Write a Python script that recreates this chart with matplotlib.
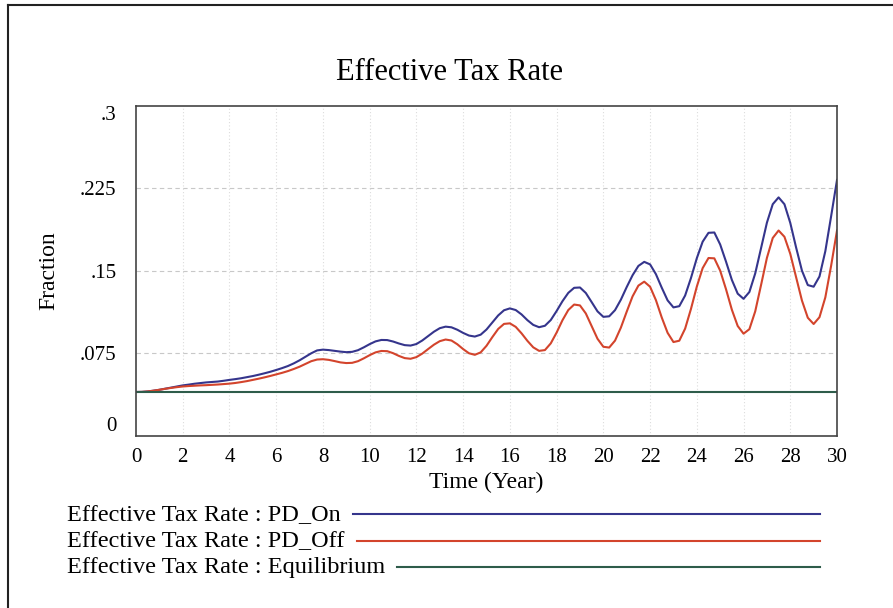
import numpy as np
import matplotlib.pyplot as plt
from matplotlib.lines import Line2D

plt.rcParams['font.family'] = ['Liberation Serif', 'DejaVu Serif']

time = np.arange(0, 30.25, 0.25)

pd_on = [0.0400, 0.0401, 0.0405, 0.0412, 0.0420, 0.0430, 0.0440, 0.0450,  # 0 - 1.75
         0.0460, 0.0467, 0.0475, 0.0481, 0.0487, 0.0491, 0.0495, 0.0502,  # 2 - 3.75
         0.0510, 0.0517, 0.0525, 0.0535, 0.0545, 0.0557, 0.0570, 0.0584,  # 4 - 5.75
         0.0600, 0.0617, 0.0636, 0.0660, 0.0688, 0.0720, 0.0752, 0.0778,  # 6 - 7.75
         0.0785, 0.0781, 0.0774, 0.0767, 0.0762, 0.0765, 0.0780, 0.0806,  # 8 - 9.75
         0.0835, 0.0860, 0.0873, 0.0872, 0.0859, 0.0841, 0.0826, 0.0822,  # 10 - 11.75
         0.0836, 0.0868, 0.0908, 0.0948, 0.0980, 0.0994, 0.0988, 0.0966,  # 12 - 13.75
         0.0937, 0.0913, 0.0904, 0.0921, 0.0968, 0.1032, 0.1096, 0.1143,  # 14 - 15.75
         0.1160, 0.1145, 0.1105, 0.1053, 0.1010, 0.0989, 0.1002, 0.1054,  # 16 - 17.75
         0.1136, 0.1225, 0.1301, 0.1347, 0.1350, 0.1300, 0.1217, 0.1133,  # 18 - 19.75
         0.1083, 0.1088, 0.1144, 0.1239, 0.1354, 0.1461, 0.1546, 0.1583,  # 20 - 21.75
         0.1560, 0.1471, 0.1348, 0.1233, 0.1169, 0.1180, 0.1277, 0.1436,  # 22 - 23.75
         0.1616, 0.1766, 0.1847, 0.1850, 0.1741, 0.1585, 0.1419, 0.1294,  # 24 - 25.75
         0.1247, 0.1309, 0.1478, 0.1708, 0.1939, 0.2107, 0.2169, 0.2107,  # 26 - 27.75
         0.1937, 0.1713, 0.1503, 0.1372, 0.1357, 0.1450, 0.1680, 0.2000,  # 28 - 29.75
         0.2328]

pd_off = [0.0400, 0.0401, 0.0405, 0.0412, 0.0420, 0.0429, 0.0437, 0.0444,
          0.0450, 0.0454, 0.0457, 0.0460, 0.0462, 0.0465, 0.0468, 0.0472,
          0.0476, 0.0482, 0.0490, 0.0499, 0.0510, 0.0521, 0.0533, 0.0546,
          0.0560, 0.0574, 0.0590, 0.0609, 0.0630, 0.0655, 0.0680, 0.0695,
          0.0698, 0.0692, 0.0681, 0.0669, 0.0663, 0.0665, 0.0680, 0.0706,
          0.0735, 0.0760, 0.0773, 0.0771, 0.0753, 0.0728, 0.0708, 0.0702,
          0.0717, 0.0749, 0.0790, 0.0830, 0.0862, 0.0877, 0.0868, 0.0834,
          0.0790, 0.0752, 0.0738, 0.0760, 0.0820, 0.0899, 0.0973, 0.1019,
          0.1024, 0.0992, 0.0933, 0.0865, 0.0806, 0.0774, 0.0781, 0.0842,
          0.0940, 0.1052, 0.1145, 0.1195, 0.1187, 0.1114, 0.0999, 0.0884,
          0.0811, 0.0804, 0.0867, 0.0985, 0.1130, 0.1269, 0.1367, 0.1403,
          0.1357, 0.1235, 0.1077, 0.0938, 0.0854, 0.0866, 0.0976, 0.1155,
          0.1358, 0.1526, 0.1618, 0.1615, 0.1503, 0.1334, 0.1148, 0.1000,
          0.0930, 0.0971, 0.1133, 0.1373, 0.1619, 0.1800, 0.1868, 0.1811,
          0.1656, 0.1443, 0.1231, 0.1075, 0.1018, 0.1080, 0.1260, 0.1550,
          0.1868]

equilibrium = [0.040] * len(time)

series_names = ['Effective Tax Rate : PD_On', 'Effective Tax Rate : PD_Off',
                'Effective Tax Rate : Equilibrium']
colors = ['#35358c', '#d3442c', '#2e5c4a']

y_ticks = [0, 0.075, 0.15, 0.225, 0.3]
y_labels = ['0', '.075', '.15', '.225', '.3']
x_ticks = list(range(0, 31, 2))

fig = plt.figure(figsize=(8.93, 6.08), dpi=100)
ax = fig.add_axes([0.1523, 0.2829, 0.785, 0.5428])

ax.plot(time, pd_on, color=colors[0], lw=1.5)
ax.plot(time, pd_off, color=colors[1], lw=1.5)
ax.plot(time, equilibrium, color=colors[2], lw=1.5)

ax.set_xlim(0, 30)
ax.set_ylim(0, 0.3)
ax.set_xticks(x_ticks)
ax.set_xticklabels([str(t) for t in x_ticks], fontsize=15)
ax.set_yticks(y_ticks)
ax.set_yticklabels(y_labels, fontsize=15)
ax.tick_params(axis='x', length=0, pad=9)
ax.tick_params(axis='y', length=0, pad=14)
labs = ax.get_yticklabels()
labs[0].set_va('bottom')
labs[-1].set_va('top')

# grid: dashed horizontals, faint verticals
for y in y_ticks[1:-1]:
    ax.axhline(y, color='#c8c8c8', lw=0.8, ls=(0, (4, 3)), zorder=0)
for x in x_ticks[1:-1]:
    ax.axvline(x, color='#dcdcdc', lw=0.8, ls=(0, (1, 2)), zorder=0)

for s in ax.spines.values():
    s.set_color('#444444')
    s.set_linewidth(1.2)

ax.set_xlabel('Time (Year)', fontsize=17, labelpad=3)
ax.set_ylabel('Fraction', fontsize=17, labelpad=15)
fig.text(450 / 893, 1 - 72 / 608, 'Effective Tax Rate', fontsize=22,
         ha='center', va='center')

# legend rows: text followed by a line sample
rows_y = [516, 542, 568]
line_y = [514, 541, 567]
for name, c, yp, ly in zip(series_names, colors, rows_y, line_y):
    t = fig.text(67 / 893, 1 - yp / 608, name, fontsize=17.5, ha='left', va='center')
    fig.canvas.draw()
    bb = t.get_window_extent()
    x0 = (bb.x1 + 12) / 893
    fig.add_artist(Line2D([x0, 820 / 893], [1 - ly / 608, 1 - ly / 608],
                          color=c, lw=1.5, transform=fig.transFigure))

# outer frame (left and top edges)
fig.add_artist(Line2D([8 / 893, 8 / 893], [0, 1 - 5 / 608], color='#222222', lw=1.5,
                      transform=fig.transFigure))
fig.add_artist(Line2D([8 / 893, 1], [1 - 5 / 608, 1 - 5 / 608], color='#222222', lw=1.5,
                      transform=fig.transFigure))

fig.savefig('out.png', dpi=100)
